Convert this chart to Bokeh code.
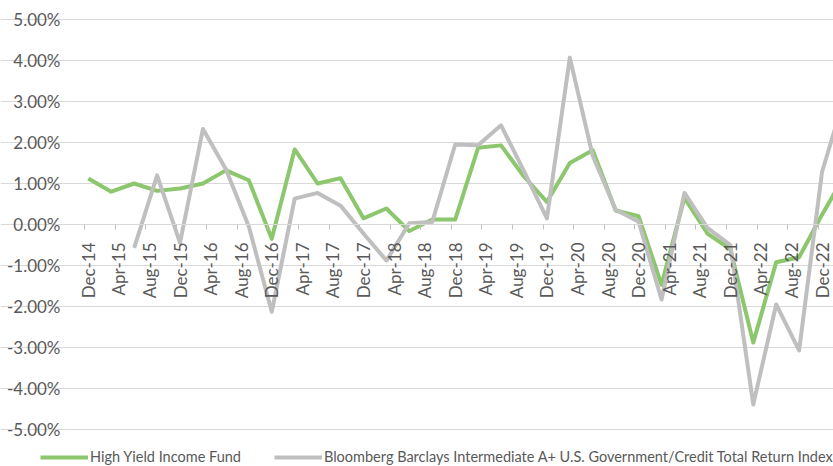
from math import pi
import pandas as pd
from bokeh.plotting import figure
from bokeh.models import (ColumnDataSource, Range1d, FixedTicker, LinearAxis, Grid,
                          PrintfTickFormatter, Legend, LegendItem)
from bokeh.embed import file_html
from bokeh.resources import INLINE

quarters = ["Dec-14", "Mar-15", "Jun-15", "Sep-15", "Dec-15", "Mar-16", "Jun-16", "Sep-16",
            "Dec-16", "Mar-17", "Jun-17", "Sep-17", "Dec-17", "Mar-18", "Jun-18", "Sep-18",
            "Dec-18", "Mar-19", "Jun-19", "Sep-19", "Dec-19", "Mar-20", "Jun-20", "Sep-20",
            "Dec-20", "Mar-21", "Jun-21", "Sep-21", "Dec-21", "Mar-22", "Jun-22", "Sep-22",
            "Dec-22", "Mar-23"]
fund = [1.12, 0.80, 1.00, 0.82, 0.88, 1.00, 1.32, 1.08,
        -0.35, 1.83, 1.00, 1.13, 0.15, 0.39, -0.16, 0.12,
        0.12, 1.87, 1.93, 1.17, 0.55, 1.50, 1.81, 0.34,
        0.20, -1.47, 0.65, -0.22, -0.60, -2.88, -0.92, -0.80,
        0.24, 1.20]
index = [None, None, -0.57, 1.20, -0.45, 2.33, 1.35, -0.05,
         -2.13, 0.63, 0.77, 0.46, -0.22, -0.88, 0.03, 0.06,
         1.95, 1.93, 2.42, 1.30, 0.15, 4.07, 1.67, 0.36,
         0.07, -1.83, 0.77, -0.08, -0.50, -4.39, -1.95, -3.07,
         1.28, 3.15]
tick_labels = ["Dec-14", "Apr-15", "Aug-15", "Dec-15", "Apr-16", "Aug-16", "Dec-16",
               "Apr-17", "Aug-17", "Dec-17", "Apr-18", "Aug-18", "Dec-18", "Apr-19",
               "Aug-19", "Dec-19", "Apr-20", "Aug-20", "Dec-20", "Apr-21", "Aug-21",
               "Dec-21", "Apr-22", "Aug-22", "Dec-22"]
y_ticks = [-5, -4, -3, -2, -1, 0, 1, 2, 3, 4, 5]
series_names = ["High Yield Income Fund",
                "Bloomberg Barclays Intermediate A+ U.S. Government/Credit Total Return Index"]


def month_index(lbl):
    d = pd.to_datetime(lbl, format="%b-%y")
    return (d.year - 2014) * 12 + d.month - 12


qx = [month_index(q) for q in quarters]
src_fund = ColumnDataSource(dict(x=qx, y=fund))
ix = [x for x, v in zip(qx, index) if v is not None]
iy = [v for v in index if v is not None]
src_index = ColumnDataSource(dict(x=ix, y=iy))

FONT = "Lato"
TXT = "#595959"
GRID = "#D9D9D9"
GREEN = "#8CC66D"
GRAY = "#BFBFBF"

# layout geometry (pixels): plot area from x=84 to the right edge, 5% at y=19, -5% at y=429
W, H = 833, 466
PLOT_LEFT, Y_TOP, Y_BOT = 84, 19, 429
X_START = month_index(tick_labels[0]) - 0.5
X_END = 97.5
px_per_month = (W - PLOT_LEFT) / (X_END - X_START)
px_per_unit = (Y_BOT - Y_TOP) / (max(y_ticks) - min(y_ticks))

p = figure(width=W, height=H, output_backend="svg", toolbar_location=None,
           x_range=Range1d(X_START - PLOT_LEFT / px_per_month, X_END),
           y_range=Range1d(max(y_ticks) - (H - Y_TOP) / px_per_unit,
                           max(y_ticks) + Y_TOP / px_per_unit),
           x_axis_location=None, y_axis_location=None,
           min_border_left=0, min_border_right=0, min_border_top=0, min_border_bottom=0)
p.outline_line_color = None
p.background_fill_color = "white"
p.border_fill_color = "white"
p.grid.visible = False

# horizontal gridlines
ygrid = Grid(dimension=1, ticker=FixedTicker(ticks=y_ticks), bounds=(X_START, X_END),
             grid_line_color=GRID, grid_line_width=1)
p.add_layout(ygrid)

# y axis labels at the left edge of the plot area
yax = LinearAxis(fixed_location=X_START, ticker=FixedTicker(ticks=y_ticks),
                 formatter=PrintfTickFormatter(format="%.2f%%"),
                 axis_line_color=None, major_tick_line_color=None, minor_tick_line_color=None,
                 major_label_text_font=FONT, major_label_text_font_size="17px",
                 major_label_text_color=TXT, major_label_standoff=18)
p.add_layout(yax, "left")

# x axis line (zero line) with tick marks at month boundaries
tick_pos = [month_index(t) - 0.5 for t in tick_labels]
xticks_ax = LinearAxis(fixed_location=0, ticker=FixedTicker(ticks=tick_pos),
                       bounds=(X_START, X_END),
                       axis_line_color=GRID, axis_line_width=1,
                       major_tick_line_color="#BFBFBF", major_tick_out=5, major_tick_in=0,
                       minor_tick_line_color=None, major_label_text_color=None)
p.add_layout(xticks_ax, "below")

# x axis labels at month centers
lab_pos = [month_index(t) for t in tick_labels]
xlab_ax = LinearAxis(fixed_location=0, ticker=FixedTicker(ticks=lab_pos),
                     major_label_overrides={k: v for k, v in zip(lab_pos, tick_labels)},
                     axis_line_color=None, major_tick_line_color=None,
                     minor_tick_line_color=None,
                     major_label_orientation=pi / 2, major_label_standoff=12,
                     major_label_text_font=FONT, major_label_text_font_size="17px",
                     major_label_text_color=TXT)
p.add_layout(xlab_ax, "below")

r_fund = p.line("x", "y", source=src_fund, line_color=GREEN, line_width=4, line_join="round")
r_index = p.line("x", "y", source=src_index, line_color=GRAY, line_width=4, line_join="round")

legend = Legend(items=[LegendItem(label=series_names[0], renderers=[r_fund]),
                       LegendItem(label=series_names[1], renderers=[r_index])],
                location=(40, 1), orientation="horizontal",
                glyph_width=48, glyph_height=12, label_height=12, label_standoff=2,
                spacing=33, padding=0, margin=0,
                border_line_color=None, background_fill_alpha=0,
                label_text_font=FONT, label_text_font_size="14.5px", label_text_color=TXT)
p.add_layout(legend, "center")

open("out.html", "w").write(file_html(p, INLINE))
